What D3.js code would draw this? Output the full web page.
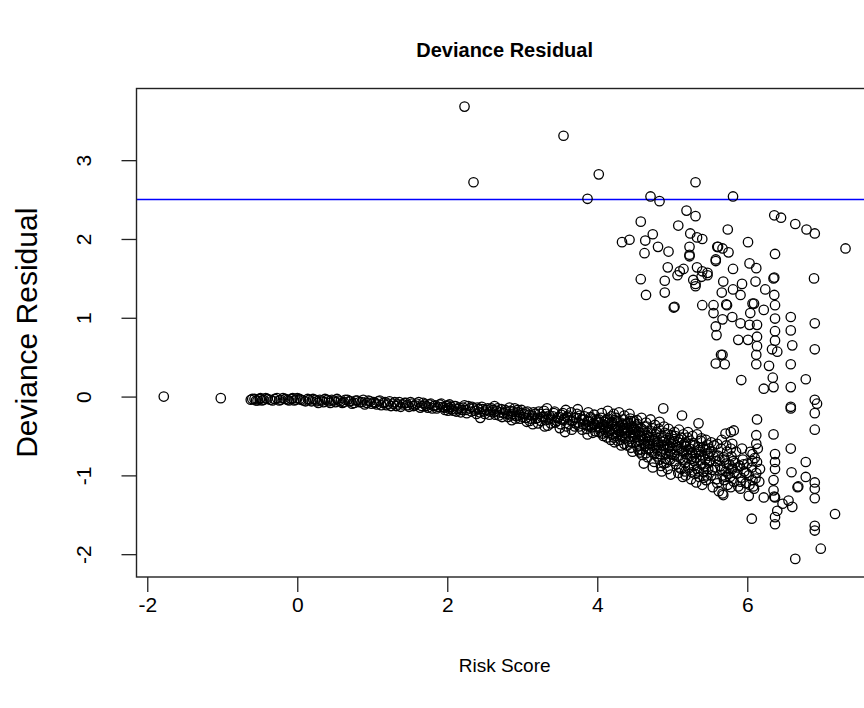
<!DOCTYPE html>
<html>
<head>
<meta charset="utf-8">
<script src="https://cdn.jsdelivr.net/npm/d3@7"></script>
<style>
  body { margin: 0; background: #fff; }
  text { font-family: "Liberation Sans", Arial, sans-serif; fill: #000; }
</style>
</head>
<body>
<svg id="board" width="864" height="708"></svg>
<script>
// risk score vs deviance residual
var leftPts = [[-1.78, 0.00], [-1.02, -0.02]];

var band = [
  [-0.62,-0.04],[-0.57,-0.03],[-0.53,-0.05],[-0.49,-0.02],[-0.45,-0.04],[-0.40,-0.03],[-0.33,-0.05],[-0.27,-0.02],[-0.22,-0.04],[-0.16,-0.03],[-0.11,-0.05],[-0.06,-0.02],[-0.02,-0.04],[0.03,-0.03],
  [0.08,-0.05],[0.14,-0.03],[0.19,-0.06],[0.24,-0.04],[0.28,-0.08],[0.33,-0.05],[0.37,-0.03],[0.42,-0.06],[0.46,-0.04],[0.51,-0.07],[0.55,-0.05],[0.60,-0.08],[0.64,-0.04],[0.69,-0.06],[0.73,-0.09],[0.78,-0.05],[0.83,-0.07],[0.88,-0.04],[0.93,-0.08],[0.97,-0.06],
  [1.02,-0.07],[1.06,-0.10],[1.10,-0.05],[1.15,-0.08],[1.19,-0.11],[1.23,-0.06],[1.28,-0.09],[1.32,-0.12],[1.36,-0.07],[1.41,-0.10],[1.45,-0.08],[1.49,-0.13],[1.53,-0.09],[1.57,-0.11],[1.62,-0.07],[1.66,-0.12],[1.70,-0.10],[1.74,-0.14],[1.78,-0.09],[1.82,-0.12],[1.86,-0.15],[1.90,-0.10],[1.94,-0.13],[1.97,-0.17],[2.00,-0.11],[2.02,-0.15],
  [2.05,-0.13],[2.08,-0.18],[2.11,-0.12],[2.14,-0.16],[2.18,-0.20],[2.21,-0.14],[2.25,-0.17],[2.28,-0.12],[2.32,-0.19],[2.35,-0.15],[2.39,-0.22],[2.42,-0.16],[2.46,-0.13],[2.49,-0.19],[2.52,-0.17],[2.56,-0.23],[2.59,-0.15],[2.62,-0.20],[2.66,-0.18],[2.69,-0.24],[2.72,-0.16],[2.75,-0.21],[2.78,-0.19],[2.81,-0.26],[2.84,-0.18],[2.87,-0.22],[2.90,-0.15],[2.92,-0.25],[2.95,-0.20],[2.97,-0.28],[2.99,-0.17],[2.44,-0.27],[2.63,-0.12],[2.86,-0.30],
  [3.02,-0.22],[3.05,-0.27],[3.07,-0.19],[3.10,-0.31],[3.13,-0.24],[3.15,-0.20],[3.18,-0.28],[3.21,-0.34],[3.23,-0.22],[3.26,-0.26],[3.29,-0.18],[3.31,-0.30],[3.34,-0.37],[3.36,-0.24],[3.39,-0.28],[3.42,-0.21],[3.44,-0.33],[3.47,-0.27],[3.50,-0.40],[3.52,-0.23],[3.55,-0.30],[3.57,-0.45],[3.60,-0.26],[3.62,-0.35],[3.65,-0.20],[3.67,-0.31],[3.70,-0.38],[3.72,-0.27],[3.75,-0.33],[3.77,-0.24],[3.80,-0.42],[3.82,-0.29],[3.85,-0.36],[3.87,-0.48],[3.89,-0.31],[3.91,-0.26],[3.93,-0.39],[3.95,-0.34],[3.97,-0.44],[3.99,-0.29],[3.33,-0.15],[3.58,-0.17],[3.74,-0.16],[3.88,-0.20],[3.96,-0.23],
  [4.01,-0.33],[4.03,-0.40],[4.05,-0.27],[4.07,-0.47],[4.09,-0.36],[4.11,-0.30],[4.13,-0.52],[4.15,-0.38],[4.17,-0.43],[4.19,-0.25],[4.21,-0.35],[4.23,-0.58],[4.24,-0.41],[4.26,-0.31],[4.28,-0.48],[4.30,-0.37],[4.32,-0.62],[4.33,-0.44],[4.35,-0.29],[4.37,-0.53],[4.39,-0.40],[4.40,-0.34],[4.42,-0.57],[4.44,-0.46],[4.45,-0.65],[4.47,-0.38],[4.48,-0.50],[4.49,-0.31],[4.06,-0.21],[4.14,-0.18],[4.22,-0.22],[4.29,-0.20],[4.36,-0.24],[4.43,-0.22],[4.12,-0.45],[4.18,-0.55],[4.27,-0.42],[4.34,-0.36],[4.38,-0.47],[4.46,-0.42],[4.02,-0.45],[4.10,-0.42],[4.20,-0.32],[4.25,-0.50],[4.31,-0.55],[4.41,-0.33],[4.47,-0.70],[4.44,-0.28],[4.36,-0.60],[4.20,-0.48],
  [4.51,-0.43],[4.52,-0.58],[4.54,-0.35],[4.55,-0.68],[4.57,-0.49],[4.58,-0.40],[4.60,-0.74],[4.61,-0.55],[4.63,-0.46],[4.64,-0.63],[4.66,-0.38],[4.67,-0.77],[4.69,-0.52],[4.70,-0.60],[4.72,-0.44],[4.73,-0.70],[4.75,-0.56],[4.76,-0.83],[4.78,-0.48],[4.79,-0.65],[4.81,-0.58],[4.82,-0.41],[4.84,-0.73],[4.85,-0.88],[4.87,-0.53],[4.88,-0.66],[4.90,-0.46],[4.91,-0.79],[4.93,-0.61],[4.94,-0.92],[4.96,-0.55],[4.97,-0.70],[4.99,-0.49],[4.53,-0.30],[4.59,-0.27],[4.65,-0.33],[4.71,-0.29],[4.77,-0.36],[4.83,-0.32],[4.89,-0.38],[4.95,-0.41],[4.62,-0.85],[4.74,-0.90],[4.86,-0.95],[4.98,-0.99],[4.56,-0.62],[4.68,-0.67],[4.80,-0.76],[4.92,-0.84],[4.50,-0.52],[4.57,-0.71],[4.66,-0.50],[4.78,-0.62],[4.88,-0.57],[4.97,-0.63],
  [5.01,-0.58],[5.02,-0.74],[5.04,-0.50],[5.05,-0.86],[5.07,-0.64],[5.08,-0.97],[5.10,-0.55],[5.11,-0.78],[5.13,-0.69],[5.14,-1.02],[5.16,-0.60],[5.17,-0.84],[5.19,-0.73],[5.20,-0.52],[5.22,-0.91],[5.23,-0.66],[5.25,-1.05],[5.26,-0.79],[5.28,-0.59],[5.29,-0.88],[5.31,-0.72],[5.32,-1.09],[5.34,-0.64],[5.35,-0.95],[5.37,-0.81],[5.38,-0.56],[5.40,-1.12],[5.41,-0.76],[5.43,-0.89],[5.44,-0.68],[5.46,-1.00],[5.47,-0.61],[5.49,-0.84],[5.03,-0.45],[5.09,-0.42],[5.15,-0.48],[5.21,-0.45],[5.27,-0.50],[5.33,-0.48],[5.39,-0.53],[5.45,-0.55],[5.06,-0.68],[5.12,-0.92],[5.18,-0.63],[5.24,-0.75],[5.30,-0.98],[5.36,-0.70],[5.42,-1.03],[5.48,-0.75],[5.18,-1.00],
  [5.51,-0.70],[5.53,-0.93],[5.54,-1.15],[5.56,-0.62],[5.58,-0.82],[5.59,-1.05],[5.61,-0.75],[5.62,-1.20],[5.64,-0.88],[5.65,-0.66],[5.67,-1.00],[5.68,-1.25],[5.70,-0.80],[5.71,-0.95],[5.73,-0.70],[5.74,-1.12],[5.76,-0.86],[5.77,-1.02],[5.79,-0.76],[5.80,-0.92],[5.82,-1.08],[5.84,-0.84],[5.86,-0.98],[5.88,-1.14],[5.90,-0.88],[5.92,-1.03],[5.94,-0.80],[5.96,-0.95],[5.98,-1.10],[6.00,-0.85],[6.02,-1.00],[6.04,-0.70],[6.06,-0.90],[6.08,-1.14],[6.10,-0.78],[6.12,-0.97],[6.14,-0.66],[6.16,-1.08],[5.52,-0.58],[5.60,-0.60],[5.66,-0.55],[5.72,-0.62],[5.78,-0.66],[5.85,-0.70],[5.93,-0.66]
];

// second pass over the band, the picture is nearly solid there
var bandDense = [
  [-0.60,-0.03],[-0.55,-0.05],[-0.50,-0.03],[-0.47,-0.05],[-0.42,-0.02],[-0.36,-0.04],[-0.30,-0.03],[-0.24,-0.05],[-0.19,-0.02],[-0.13,-0.04],[-0.08,-0.03],[-0.04,-0.05],[0.00,-0.02],
  [0.05,-0.04],[0.11,-0.06],[0.16,-0.04],[0.21,-0.03],[0.26,-0.06],[0.30,-0.04],[0.35,-0.07],[0.40,-0.04],[0.44,-0.08],[0.49,-0.05],[0.53,-0.03],[0.58,-0.06],[0.62,-0.07],[0.67,-0.04],[0.71,-0.06],[0.76,-0.08],[0.80,-0.05],[0.86,-0.07],[0.90,-0.10],[0.95,-0.05],[0.99,-0.09],
  [1.04,-0.08],[1.08,-0.06],[1.12,-0.11],[1.17,-0.07],[1.21,-0.09],[1.25,-0.12],[1.30,-0.07],[1.34,-0.10],[1.38,-0.13],[1.43,-0.08],[1.47,-0.11],[1.51,-0.07],[1.55,-0.12],[1.59,-0.09],[1.64,-0.14],[1.68,-0.08],[1.72,-0.12],[1.76,-0.10],[1.80,-0.15],[1.84,-0.11],[1.88,-0.13],[1.92,-0.09],[1.96,-0.14],[1.99,-0.12],[2.01,-0.18],[2.03,-0.10],
  [2.06,-0.16],[2.09,-0.12],[2.12,-0.19],[2.16,-0.14],[2.19,-0.17],[2.23,-0.11],[2.26,-0.21],[2.30,-0.15],[2.33,-0.13],[2.37,-0.18],[2.40,-0.14],[2.43,-0.20],[2.47,-0.16],[2.50,-0.22],[2.54,-0.15],[2.57,-0.19],[2.61,-0.17],[2.64,-0.23],[2.67,-0.15],[2.70,-0.20],[2.73,-0.26],[2.77,-0.17],[2.80,-0.22],[2.83,-0.14],[2.85,-0.24],[2.88,-0.19],[2.91,-0.28],[2.94,-0.17],[2.96,-0.23],[2.98,-0.21],
  [3.01,-0.26],[3.04,-0.20],[3.06,-0.32],[3.09,-0.23],[3.12,-0.28],[3.14,-0.35],[3.17,-0.22],[3.20,-0.27],[3.22,-0.19],[3.25,-0.31],[3.28,-0.25],[3.30,-0.38],[3.32,-0.22],[3.35,-0.29],[3.38,-0.34],[3.41,-0.25],[3.43,-0.19],[3.46,-0.31],[3.49,-0.26],[3.51,-0.35],[3.54,-0.21],[3.56,-0.28],[3.59,-0.38],[3.61,-0.24],[3.64,-0.30],[3.66,-0.42],[3.69,-0.27],[3.71,-0.34],[3.73,-0.22],[3.76,-0.38],[3.79,-0.29],[3.81,-0.35],[3.83,-0.25],[3.86,-0.41],[3.88,-0.32],[3.90,-0.38],[3.92,-0.28],[3.94,-0.46],[3.96,-0.36],[3.98,-0.31],
  [4.00,-0.38],[4.02,-0.29],[4.04,-0.43],[4.06,-0.35],[4.08,-0.50],[4.10,-0.32],[4.12,-0.39],[4.14,-0.28],[4.16,-0.46],[4.18,-0.34],[4.20,-0.41],[4.22,-0.52],[4.23,-0.30],[4.25,-0.38],[4.27,-0.56],[4.29,-0.44],[4.31,-0.33],[4.33,-0.50],[4.34,-0.40],[4.36,-0.46],[4.38,-0.35],[4.40,-0.62],[4.41,-0.43],[4.43,-0.51],[4.45,-0.37],[4.46,-0.58],[4.48,-0.45],[4.49,-0.40],[4.15,-0.33],[4.25,-0.27],[4.35,-0.42],[4.45,-0.31],
  [4.50,-0.47],[4.52,-0.38],[4.53,-0.63],[4.55,-0.45],[4.56,-0.55],[4.58,-0.67],[4.59,-0.50],[4.61,-0.42],[4.62,-0.60],[4.64,-0.53],[4.65,-0.72],[4.67,-0.46],[4.68,-0.57],[4.70,-0.66],[4.71,-0.51],[4.73,-0.40],[4.74,-0.62],[4.76,-0.73],[4.77,-0.54],[4.79,-0.45],[4.80,-0.68],[4.82,-0.61],[4.83,-0.80],[4.85,-0.50],[4.86,-0.70],[4.88,-0.62],[4.89,-0.85],[4.91,-0.55],[4.92,-0.72],[4.94,-0.48],[4.95,-0.65],[4.97,-0.80],[4.98,-0.58],[4.99,-0.73],
  [5.00,-0.66],[5.02,-0.54],[5.03,-0.82],[5.05,-0.62],[5.06,-0.76],[5.08,-0.58],[5.09,-0.90],[5.11,-0.66],[5.12,-0.52],[5.14,-0.80],[5.15,-0.70],[5.17,-0.95],[5.18,-0.58],[5.20,-0.78],[5.21,-0.68],[5.23,-0.87],[5.24,-0.60],[5.26,-0.96],[5.27,-0.72],[5.29,-0.82],[5.30,-0.62],[5.32,-0.78],[5.33,-0.92],[5.35,-0.68],[5.36,-1.02],[5.38,-0.74],[5.39,-0.86],[5.41,-0.64],[5.42,-0.96],[5.44,-0.80],[5.45,-1.06],[5.47,-0.72],[5.48,-0.92],[5.49,-0.66],
  [5.50,-0.82],[5.52,-1.00],[5.55,-0.76],[5.57,-0.90],[5.60,-1.10],[5.63,-0.80],[5.66,-0.93],[5.69,-1.06],[5.72,-0.85],[5.75,-0.98],[5.78,-1.15],[5.81,-0.82],[5.83,-0.96],[5.87,-0.90],[5.91,-1.08],[5.95,-0.86],[5.99,-0.97],[6.03,-1.12],[6.07,-0.82],[6.11,-1.04]
];

var upperPts = [
  [2.23,3.68],[2.35,2.72],[3.55,3.31],[4.02,2.82],[3.87,2.51],[5.31,2.72],[4.71,2.54],[4.83,2.48],[5.81,2.54],
  [5.19,2.36],[5.31,2.29],[4.58,2.22],[5.08,2.17],[5.74,2.12],[6.36,2.30],[6.45,2.27],[6.64,2.19],[6.79,2.12],[6.90,2.07],[7.31,1.88],
  [4.33,1.96],[4.43,1.99],[4.64,1.98],[4.74,2.06],[4.81,1.90],[4.95,1.84],[4.63,1.82],[5.24,2.07],[5.33,2.02],[5.40,2.00],[5.23,1.90],[5.23,1.80],[5.61,1.90],[5.67,1.88],[5.75,1.83],[5.58,1.72],[6.01,1.96],[6.37,1.81],
  [4.94,1.64],[5.10,1.59],[5.15,1.62],[5.33,1.64],[5.40,1.59],[5.47,1.57],[5.81,1.62],[6.03,1.69],[6.12,1.63],[6.35,1.50],[6.36,1.51],[6.89,1.50],
  [4.58,1.49],[4.90,1.47],[4.65,1.29],[4.90,1.32],[5.28,1.48],[5.31,1.43],[5.68,1.46],[5.81,1.36],[5.93,1.43],[5.66,1.32],[5.91,1.29],[6.11,1.46],[6.24,1.36],[6.36,1.29],
  [5.03,1.14],[5.40,1.16],[5.55,1.16],[5.73,1.16],[6.07,1.18],[5.07,1.54],[5.23,1.78],[5.31,1.40],[5.47,1.54],[5.39,1.52],[5.58,1.74],[5.60,1.90],
  [5.72,1.17],[6.09,1.18],[6.22,1.10],[6.37,1.16],[6.37,0.99],[6.37,0.83],[6.37,0.71],[6.40,0.57],[6.33,0.60],
  [6.58,1.01],[6.58,0.84],[6.60,0.65],[6.58,0.41],[6.58,0.12],[6.90,0.93],[6.90,0.60],[6.78,0.22],
  [5.80,1.01],[5.67,0.98],[5.91,0.93],[6.04,1.06],[6.13,0.91],[6.03,0.91],[5.88,0.72],[6.01,0.72],[6.13,0.76],[6.13,0.64],[6.12,0.53],[5.70,0.41],[6.12,0.41],[6.29,0.39],[6.34,0.24],[6.35,0.12],[6.22,0.10],[5.92,0.21],[5.67,0.53],
  [5.55,1.06],[5.58,0.89],[5.59,0.78],[5.58,0.42],[5.65,0.53],[5.02,1.13]
];

var tailPts = [
  [6.58,-0.13],[6.58,-0.15],[6.90,-0.04],[6.93,-0.09],[6.90,-0.21],[6.90,-0.42],[6.13,-0.29],[6.35,-0.48],[6.58,-0.66],[6.78,-0.83],[6.59,-0.96],[6.78,-1.02],[6.90,-1.09],[6.90,-1.17],[6.90,-1.29],[6.67,-1.15],[6.68,-1.14],[7.17,-1.49],[6.90,-1.64],[6.90,-1.70],[6.98,-1.93],[6.64,-2.06],
  [6.06,-1.55],[6.37,-1.53],[6.37,-1.62],[6.40,-1.45],[6.47,-1.36],[6.55,-1.32],[6.60,-1.40],[6.35,-1.06],[6.35,-1.19],[6.37,-1.28],[6.36,-1.27],[6.37,-0.83],[6.37,-0.73],[6.37,-0.92],
  [6.12,-0.49],[6.12,-0.60],[6.07,-0.73],[6.13,-0.83],[6.17,-0.92],[6.07,-1.06],[6.09,-1.17],[6.02,-1.26],[6.22,-1.28],[5.91,-1.17],[5.78,-0.45],[5.71,-0.47],[5.80,-0.60],[5.69,-0.77],[5.80,-0.90],[5.71,-1.02],[5.67,-1.23],
  [4.88,-0.15],[5.13,-0.24],[5.35,-0.34],[5.82,-0.43]
];

var xTicks = [-2, 0, 2, 4, 6];
var yTicks = [-2, -1, 0, 1, 2, 3];
var cutoff = 2.5;

var points = leftPts.concat(band, bandDense, upperPts, tailPts);

// plot region, R style: box plus 4% padding on the data range
var plotLeft = 136.5, plotTop = 88.5, plotBottom = 577;
var pxPerX = 75;

var pad = function(ext) {
  var r = ext[1] - ext[0];
  return [ext[0] - 0.04 * r, ext[1] + 0.04 * r];
};
var xDom = pad(d3.extent(points, function(d) { return d[0]; }));
var yDom = pad(d3.extent(points, function(d) { return d[1]; }));
var plotRight = plotLeft + (xDom[1] - xDom[0]) * pxPerX;

var x = d3.scaleLinear().domain(xDom).range([plotLeft, plotRight]);
var y = d3.scaleLinear().domain(yDom).range([plotBottom, plotTop]);

// R prints a plain hyphen for negatives
var fmt = function(d) { return String(d); };

var svg = d3.select("#board");

svg.append("g")
  .attr("transform", "translate(0," + plotBottom + ")")
  .call(d3.axisBottom(x).tickValues(xTicks).tickSize(15).tickPadding(5).tickFormat(fmt))
  .call(function(g) {
    g.select(".domain").remove();
    g.selectAll("line").attr("stroke", "#222").attr("stroke-width", 1.3);
    g.selectAll("text").style("font-size", "21px").attr("font-family", null);
  });

var yAxis = svg.append("g")
  .attr("transform", "translate(" + plotLeft + ",0)")
  .call(d3.axisLeft(y).tickValues(yTicks).tickSize(15).tickFormat(fmt));

yAxis.select(".domain").remove();
yAxis.selectAll("line").attr("stroke", "#222").attr("stroke-width", 1.3);
// labels sit parallel to the axis, as in R's default las = 0
yAxis.selectAll("text")
  .style("font-size", "21px")
  .attr("font-family", null)
  .attr("x", null).attr("dy", null)
  .attr("text-anchor", "middle")
  .attr("transform", "translate(-52,0) rotate(-90)")
  .attr("y", 6);

// cutoff line
svg.append("line")
  .attr("x1", plotLeft).attr("x2", plotRight)
  .attr("y1", y(cutoff)).attr("y2", y(cutoff))
  .attr("stroke", "#0000ff")
  .attr("stroke-width", 1.5);

svg.append("g").selectAll("circle")
  .data(points)
  .enter()
  .append("circle")
  .attr("cx", function(d) { return x(d[0]); })
  .attr("cy", function(d) { return y(d[1]); })
  .attr("r", 4.7)
  .attr("fill", "none")
  .attr("stroke", "#000")
  .attr("stroke-width", 1.3);

svg.append("rect")
  .attr("x", plotLeft).attr("y", plotTop)
  .attr("width", plotRight - plotLeft).attr("height", plotBottom - plotTop)
  .attr("fill", "none")
  .attr("stroke", "#222")
  .attr("stroke-width", 1.4);

var mid = (plotLeft + plotRight) / 2;

svg.append("text")
  .attr("x", mid).attr("y", 57)
  .attr("text-anchor", "middle")
  .style("font-size", "20px")
  .style("font-weight", "bold")
  .text("Deviance Residual");

svg.append("text")
  .attr("x", mid).attr("y", 672)
  .attr("text-anchor", "middle")
  .style("font-size", "19px")
  .text("Risk Score");

svg.append("text")
  .attr("transform", "translate(37," + ((plotTop + plotBottom) / 2) + ") rotate(-90)")
  .attr("text-anchor", "middle")
  .style("font-size", "30px")
  .text("Deviance Residual");
</script>
</body>
</html>
